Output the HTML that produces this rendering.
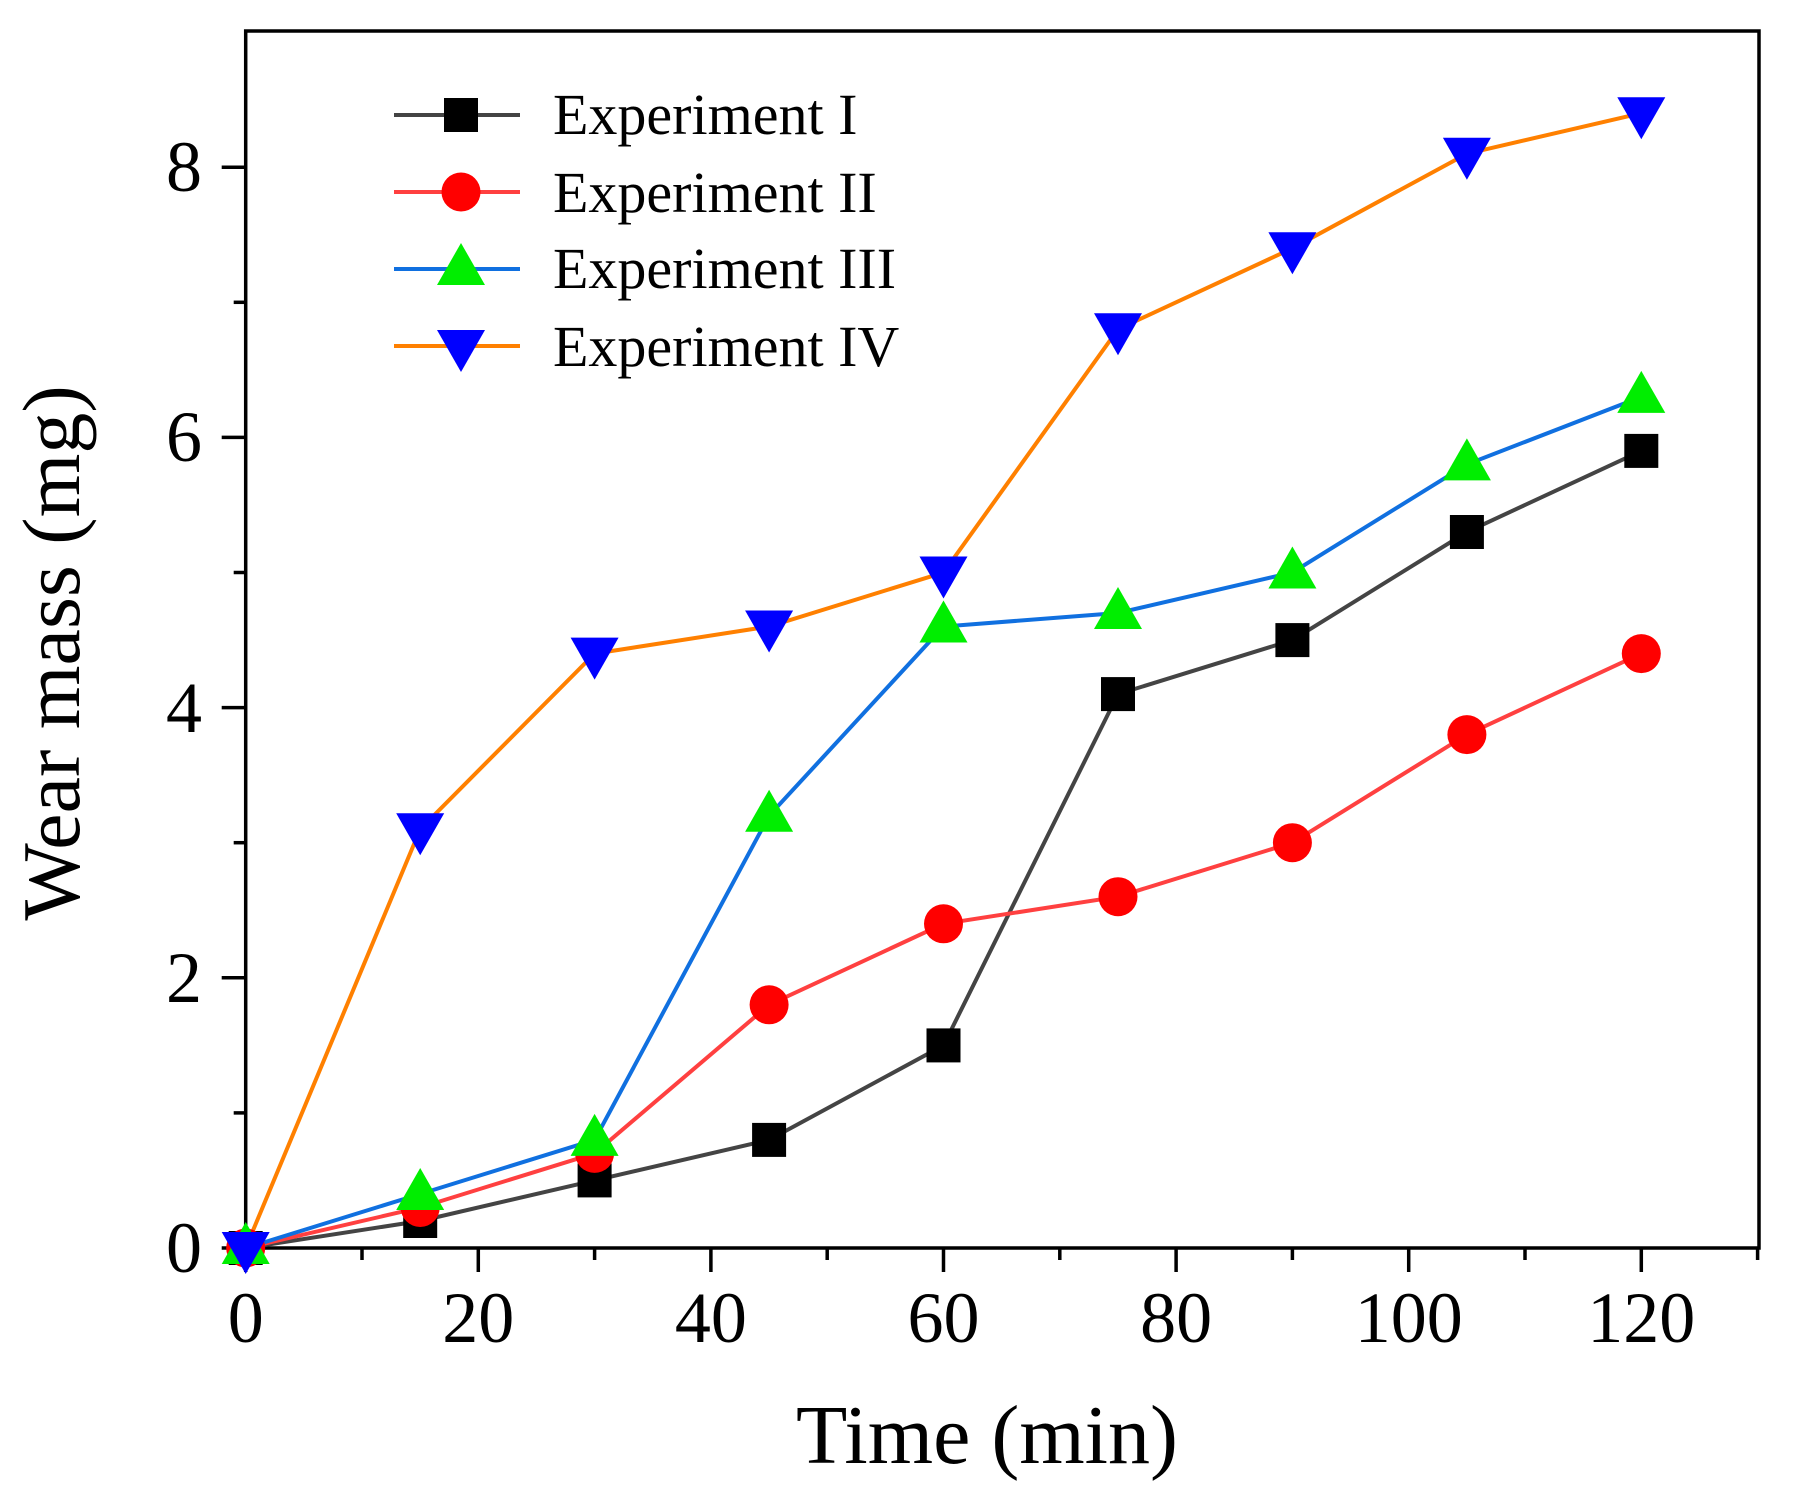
<!DOCTYPE html>
<html><head><meta charset="utf-8"><style>html,body{margin:0;padding:0;background:#fff}svg{display:block}</style></head>
<body>
<svg width="1798" height="1493" viewBox="0 0 1798 1493" xmlns="http://www.w3.org/2000/svg" xmlns:xlink="http://www.w3.org/1999/xlink" font-family="Liberation Serif, serif">
<defs>
<rect id="sq" x="-17" y="-17" width="34" height="34" fill="#000"/>
<circle id="ci" r="19.5" fill="#ff0000"/>
<polygon id="up" points="0,-26 -24,16 24,16" fill="#00ee00"/>
<polygon id="dn" points="0,26 -24,-16 24,-16" fill="#0000ff"/>
</defs>
<rect width="1798" height="1493" fill="#fff"/>
<rect x="245.7" y="31" width="1513.3" height="1217" fill="none" stroke="#000" stroke-width="3.5"/>
<g stroke="#000" stroke-width="3.5">
<line x1="245.7" y1="1248" x2="245.7" y2="1272"/>
<line x1="362" y1="1248" x2="362" y2="1260"/>
<line x1="478.3" y1="1248" x2="478.3" y2="1272"/>
<line x1="594.6" y1="1248" x2="594.6" y2="1260"/>
<line x1="710.9" y1="1248" x2="710.9" y2="1272"/>
<line x1="827.2" y1="1248" x2="827.2" y2="1260"/>
<line x1="943.5" y1="1248" x2="943.5" y2="1272"/>
<line x1="1059.8" y1="1248" x2="1059.8" y2="1260"/>
<line x1="1176.1" y1="1248" x2="1176.1" y2="1272"/>
<line x1="1292.4" y1="1248" x2="1292.4" y2="1260"/>
<line x1="1408.7" y1="1248" x2="1408.7" y2="1272"/>
<line x1="1525" y1="1248" x2="1525" y2="1260"/>
<line x1="1641.3" y1="1248" x2="1641.3" y2="1272"/>
<line x1="1757.6" y1="1248" x2="1757.6" y2="1260"/>
<line x1="245.7" y1="1248" x2="221.7" y2="1248"/>
<line x1="245.7" y1="1112.9" x2="233.7" y2="1112.9"/>
<line x1="245.7" y1="977.8" x2="221.7" y2="977.8"/>
<line x1="245.7" y1="842.7" x2="233.7" y2="842.7"/>
<line x1="245.7" y1="707.6" x2="221.7" y2="707.6"/>
<line x1="245.7" y1="572.5" x2="233.7" y2="572.5"/>
<line x1="245.7" y1="437.4" x2="221.7" y2="437.4"/>
<line x1="245.7" y1="302.3" x2="233.7" y2="302.3"/>
<line x1="245.7" y1="167.2" x2="221.7" y2="167.2"/>
</g>
<g font-size="72" text-anchor="middle" fill="#000">
<text x="245.7" y="1342">0</text>
<text x="478.3" y="1342">20</text>
<text x="710.9" y="1342">40</text>
<text x="943.5" y="1342">60</text>
<text x="1176.1" y="1342">80</text>
<text x="1408.7" y="1342">100</text>
<text x="1641.3" y="1342">120</text>
</g>
<g font-size="72" text-anchor="end" fill="#000">
<text x="202" y="1272">0</text>
<text x="202" y="1002">2</text>
<text x="202" y="732">4</text>
<text x="202" y="461">6</text>
<text x="202" y="191">8</text>
</g>
<g fill="none" stroke-width="4">
<polyline stroke="#444444" points="245.7,1248 420.2,1221 594.6,1180.4 769.1,1139.9 943.5,1045.4 1118,694.1 1292.4,640.1 1466.9,532 1641.3,450.9"/>
<polyline stroke="#ff4040" points="245.7,1248 420.2,1207.5 594.6,1153.4 769.1,1004.8 943.5,923.8 1118,896.7 1292.4,842.7 1466.9,734.6 1641.3,653.6"/>
<polyline stroke="#1070e0" points="245.7,1248 420.2,1194 594.6,1139.9 769.1,815.7 943.5,626.5 1118,613 1292.4,572.5 1466.9,464.4 1641.3,396.9"/>
<polyline stroke="#ff8000" points="245.7,1248 420.2,829.2 594.6,653.6 769.1,626.5 943.5,572.5 1118,329.3 1292.4,248.3 1466.9,153.7 1641.3,113.2"/>
</g>
<use xlink:href="#sq" href="#sq" x="245.7" y="1248"/><use xlink:href="#sq" href="#sq" x="420.2" y="1221"/><use xlink:href="#sq" href="#sq" x="594.6" y="1180.4"/><use xlink:href="#sq" href="#sq" x="769.1" y="1139.9"/><use xlink:href="#sq" href="#sq" x="943.5" y="1045.4"/><use xlink:href="#sq" href="#sq" x="1118" y="694.1"/><use xlink:href="#sq" href="#sq" x="1292.4" y="640.1"/><use xlink:href="#sq" href="#sq" x="1466.9" y="532"/><use xlink:href="#sq" href="#sq" x="1641.3" y="450.9"/>
<use xlink:href="#ci" href="#ci" x="245.7" y="1248"/><use xlink:href="#ci" href="#ci" x="420.2" y="1207.5"/><use xlink:href="#ci" href="#ci" x="594.6" y="1153.4"/><use xlink:href="#ci" href="#ci" x="769.1" y="1004.8"/><use xlink:href="#ci" href="#ci" x="943.5" y="923.8"/><use xlink:href="#ci" href="#ci" x="1118" y="896.7"/><use xlink:href="#ci" href="#ci" x="1292.4" y="842.7"/><use xlink:href="#ci" href="#ci" x="1466.9" y="734.6"/><use xlink:href="#ci" href="#ci" x="1641.3" y="653.6"/>
<use xlink:href="#up" href="#up" x="245.7" y="1248"/><use xlink:href="#up" href="#up" x="420.2" y="1194"/><use xlink:href="#up" href="#up" x="594.6" y="1139.9"/><use xlink:href="#up" href="#up" x="769.1" y="815.7"/><use xlink:href="#up" href="#up" x="943.5" y="626.5"/><use xlink:href="#up" href="#up" x="1118" y="613"/><use xlink:href="#up" href="#up" x="1292.4" y="572.5"/><use xlink:href="#up" href="#up" x="1466.9" y="464.4"/><use xlink:href="#up" href="#up" x="1641.3" y="396.9"/>
<use xlink:href="#dn" href="#dn" x="245.7" y="1248"/><use xlink:href="#dn" href="#dn" x="420.2" y="829.2"/><use xlink:href="#dn" href="#dn" x="594.6" y="653.6"/><use xlink:href="#dn" href="#dn" x="769.1" y="626.5"/><use xlink:href="#dn" href="#dn" x="943.5" y="572.5"/><use xlink:href="#dn" href="#dn" x="1118" y="329.3"/><use xlink:href="#dn" href="#dn" x="1292.4" y="248.3"/><use xlink:href="#dn" href="#dn" x="1466.9" y="153.7"/><use xlink:href="#dn" href="#dn" x="1641.3" y="113.2"/>
<g stroke-width="4">
<line x1="394" y1="115" x2="520" y2="115" stroke="#444444"/>
<line x1="394" y1="192" x2="520" y2="192" stroke="#ff4040"/>
<line x1="394" y1="269" x2="520" y2="269" stroke="#1070e0"/>
<line x1="394" y1="346" x2="520" y2="346" stroke="#ff8000"/>
</g>
<use xlink:href="#sq" href="#sq" x="461" y="115"/>
<use xlink:href="#ci" href="#ci" x="461" y="192"/>
<use xlink:href="#up" href="#up" x="461" y="269"/>
<use xlink:href="#dn" href="#dn" x="461" y="346"/>
<g font-size="58" fill="#000">
<text x="553" y="134">Experiment I</text>
<text x="553" y="212">Experiment II</text>
<text x="553" y="288">Experiment III</text>
<text x="553" y="366">Experiment IV</text>
</g>
<text x="987" y="1463" font-size="84" text-anchor="middle">Time (min)</text>
<text transform="translate(79,653) rotate(-90)" font-size="82" text-anchor="middle">Wear mass (mg)</text>
</svg>
</body></html>
